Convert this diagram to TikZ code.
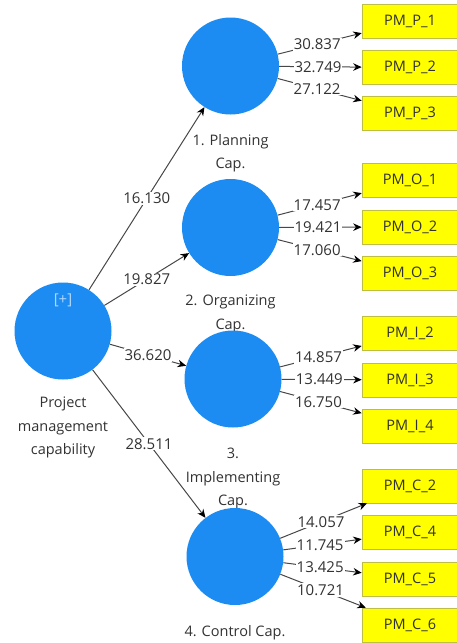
\documentclass[tikz,border=0pt]{standalone}
\usepackage{fontspec}
\setmainfont{Open Sans}
\usetikzlibrary{arrows.meta}
\definecolor{lvblue}{RGB}{28,140,242}
\definecolor{indyellow}{RGB}{255,255,0}
\definecolor{indedge}{RGB}{190,190,70}
\definecolor{txtgray}{RGB}{50,50,50}
\definecolor{plusblue}{RGB}{175,215,255}
\tikzset{
  latent/.style={circle, fill=lvblue, minimum size=97pt, inner sep=0pt},
  indicator/.style={rectangle, fill=indyellow, draw=indedge, line width=0.6pt,
    minimum width=96pt, minimum height=34pt, inner sep=0pt,
    text=txtgray, font=\fontsize{14.5}{16}\selectfont},
  lvlabel/.style={align=center, anchor=north, inner sep=0pt, text=txtgray,
    font=\fontsize{14.5}{23.5}\selectfont},
  lvpath/.style={draw=black!72, line width=1pt,
    -{Stealth[length=8.5pt,width=7.5pt,black]}},
  coef/.style={fill=white, inner sep=1pt, text=txtgray,
    font=\fontsize{15}{16}\selectfont},
}
\begin{document}
\begin{tikzpicture}[x=1pt,y=-1pt]
\useasboundingbox (0,0) rectangle (456,643);

% construct labels (drawn first so the circles sit on top of them)
\node[lvlabel] (lp) at (230.5,134) {1. Planning\\Cap.};
\node[lvlabel] (lo) at (230.5,295) {2. Organizing\\Cap.};
\node[lvlabel] (lpm) at (63,397) {Project\\management\\capability};
\node[lvlabel] (li) at (233,448) {3.\\Implementing\\Cap.};
\node[lvlabel] (lc) at (235,625) {4. Control Cap.};

% latent variables
\node[latent] (pm) at (63,331) {};
\node[latent] (pl) at (230.5,66) {};
\node[latent] (or) at (230.5,227.5) {};
\node[latent] (im) at (233,379) {};
\node[latent] (co) at (235,556.5) {};
\node[text=plusblue, font=\fontsize{15}{16}\selectfont] (plus) at (63,300) {[+]};

% indicators
\node[indicator] (p1) at (410,21) {PM\_P\_1};
\node[indicator] (p2) at (410,67.5) {PM\_P\_2};
\node[indicator] (p3) at (410,113.5) {PM\_P\_3};
\node[indicator] (o1) at (410,180.5) {PM\_O\_1};
\node[indicator] (o2) at (410,227) {PM\_O\_2};
\node[indicator] (o3) at (410,273.5) {PM\_O\_3};
\node[indicator] (i2) at (410,333.5) {PM\_I\_2};
\node[indicator] (i3) at (410,380) {PM\_I\_3};
\node[indicator] (i4) at (410,426) {PM\_I\_4};
\node[indicator] (c2) at (410,486) {PM\_C\_2};
\node[indicator] (c4) at (410,532.5) {PM\_C\_4};
\node[indicator] (c5) at (410,579) {PM\_C\_5};
\node[indicator] (c6) at (410,625) {PM\_C\_6};

% second-order paths
\draw[lvpath] (pm) -- node[coef] {16.130} (pl);
\draw[lvpath] (pm) -- node[coef] {19.827} (or);
\draw[lvpath] (pm) -- node[coef] {36.620} (im);
\draw[lvpath] (pm) -- node[coef] {28.511} (co);

% outer loadings
\draw[lvpath] (pl) -- node[coef, pos=0.47] {30.837} (p1);
\draw[lvpath] (pl) -- node[coef, pos=0.47] {32.749} (p2);
\draw[lvpath] (pl) -- node[coef, pos=0.47] {27.122} (p3);
\draw[lvpath] (or) -- node[coef, pos=0.47] {17.457} (o1);
\draw[lvpath] (or) -- node[coef, pos=0.47] {19.421} (o2);
\draw[lvpath] (or) -- node[coef, pos=0.47] {17.060} (o3);
\draw[lvpath] (im) -- node[coef, pos=0.47] {14.857} (i2);
\draw[lvpath] (im) -- node[coef, pos=0.47] {13.449} (i3);
\draw[lvpath] (im) -- node[coef, pos=0.47] {16.750} (i4);
\draw[lvpath] (co) -- node[coef, pos=0.47] {14.057} (c2);
\draw[lvpath] (co) -- node[coef, pos=0.47] {11.745} (c4);
\draw[lvpath] (co) -- node[coef, pos=0.47] {13.425} (c5);
\draw[lvpath] (co) -- node[coef, pos=0.47] {10.721} (c6);
\end{tikzpicture}
\end{document}
